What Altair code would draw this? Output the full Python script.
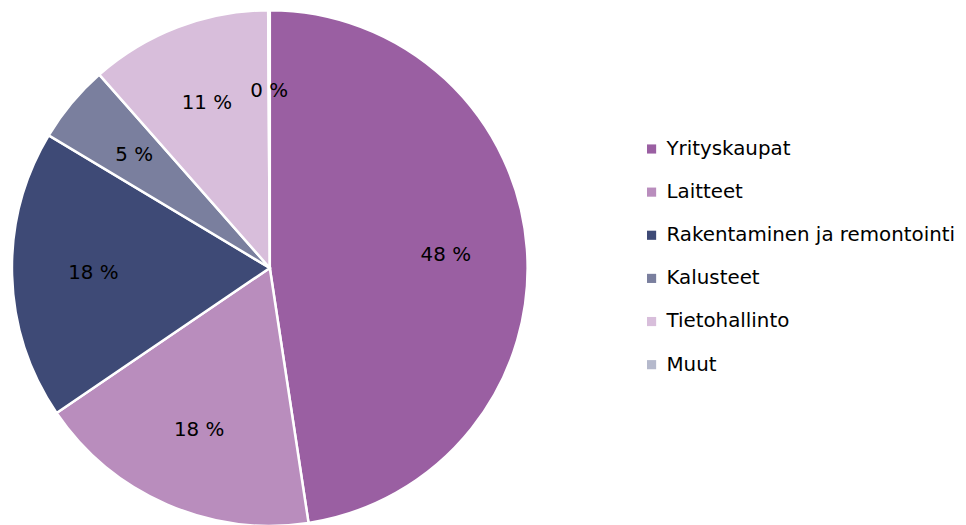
import altair as alt
import pandas as pd

categories = ["Yrityskaupat", "Laitteet", "Rakentaminen ja remontointi", "Kalusteet", "Tietohallinto", "Muut"]
values = [47.6, 17.9, 18.1, 4.9, 11.4, 0.1]
labels = ["48 %", "18 %", "18 %", "5 %", "11 %", "0 %"]
colors = ["#9a5fa2", "#b98dbd", "#3e4a76", "#7a7f9e", "#d8bedb", "#b5b9cc"]

df = pd.DataFrame({
    "cat": categories,
    "val": values,
    "lab": labels,
    "idx": list(range(len(categories))),
})

cx, cy, R = 264, 260, 260

base = alt.Chart(df).encode(
    theta=alt.Theta("val:Q", stack=True),
    order=alt.Order("idx:Q"),
)

pie = base.mark_arc(outerRadius=R, stroke="white", strokeWidth=2.5).encode(
    x=alt.value(cx), y=alt.value(cy),
    color=alt.Color(
        "cat:N",
        scale=alt.Scale(domain=categories, range=colors),
        sort=categories,
        legend=alt.Legend(
            title=None, orient="none", legendX=639, legendY=130,
            symbolType="square", symbolSize=85, symbolStrokeWidth=0,
            labelFontSize=20, labelFont="DejaVu Sans", labelColor="#000000",
            rowPadding=23.5, symbolOffset=0, labelOffset=5, labelLimit=400,
        ),
    ),
)

text = base.mark_text(radius=178, fontSize=20, font="DejaVu Sans", color="#000000").encode(
    x=alt.value(cx), y=alt.value(cy),
    text="lab:N",
)

chart = (pie + text).properties(
    width=958, height=517,
    autosize=alt.AutoSizeParams(type="none"),
    padding=0,
).configure_view(stroke=None)

chart.save("out.html", embed_options={"renderer": "svg", "actions": False})
